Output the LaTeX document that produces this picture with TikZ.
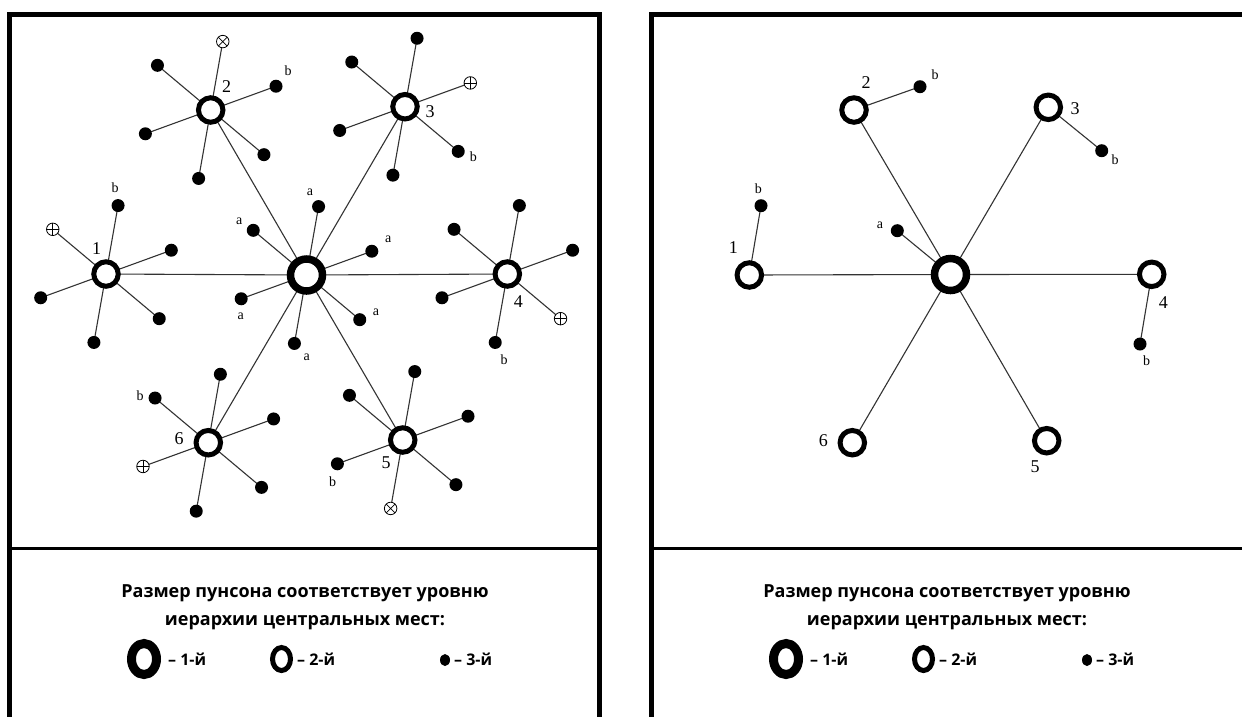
\documentclass[tikz,border=0pt]{standalone}
\usepackage{fontspec}
\setmainfont{Liberation Serif}
\newfontfamily\legendfont{Open Sans}
\usetikzlibrary{calc,shapes.geometric}
\pgfdeclarelayer{paper}
\pgfdeclarelayer{wires}
\pgfsetlayers{paper,wires,main}

\begin{document}
\begin{tikzpicture}[x=1pt,y=-1pt,
  link/.style={line width=1.1pt, draw=black!80},
  frame/.style={line width=5pt, line join=miter},
  divider/.style={line width=3pt},
  hub/.style={circle, draw, line width=7.5pt, fill=white, minimum size=32pt, inner sep=0pt},
  town/.style={circle, draw, line width=5pt, fill=white, minimum size=24.5pt, inner sep=0pt},
  village/.style={circle, fill, minimum size=13pt, inner sep=0pt},
  ring/.style={circle, draw, line width=0.8pt, fill=white, minimum size=12.5pt, inner sep=0pt},
  plusring/.style={ring, path picture={
      \draw[line width=0.7pt] (path picture bounding box.north) -- (path picture bounding box.south)
                              (path picture bounding box.west) -- (path picture bounding box.east);}},
  timesring/.style={ring, path picture={
      \draw[line width=0.7pt] (path picture bounding box.north west) -- (path picture bounding box.south east)
                              (path picture bounding box.south west) -- (path picture bounding box.north east);}},
  num/.style={font=\fontsize{18}{18}\selectfont, inner sep=0pt},
  tag/.style={font=\fontsize{14}{14}\selectfont, inner sep=0pt},
  legtext/.style={font=\legendfont\bfseries\fontsize{18}{18}\selectfont, inner sep=0pt},
  legitem/.style={font=\legendfont\bfseries\fontsize{16}{16}\selectfont, inner sep=0pt, anchor=west},
  bigO/.style={ellipse, draw, line width=9pt, minimum width=25pt, minimum height=31pt, inner sep=0pt},
  midO/.style={ellipse, draw, line width=5pt, minimum width=18pt, minimum height=23pt, inner sep=0pt},
  smallO/.style={ellipse, fill, minimum width=10pt, minimum height=12pt, inner sep=0pt}
]
\useasboundingbox (0,0) rectangle (1242,716);
\begin{pgfonlayer}{paper}
  \fill[white] (0,0) rectangle (1242,716);
\end{pgfonlayer}

% ---------- frames ----------
\draw[frame] (9.5,720) -- (9.5,14) -- (599,14) -- (599,720);
\draw[divider] (9.5,548) -- (599,548);
\draw[frame] (651,720) -- (651,14) -- (1250,14);
\draw[divider] (651,548) -- (1250,548);

% ---------- left panel: full network ----------
\node[hub]  (L0) at (306.5,275) {};
\node[town] (L1) at (106,274) {};
\node[town] (L2) at (210.7,110) {};
\node[town] (L3) at (405,106.7) {};
\node[town] (L4) at (507.3,274) {};
\node[town] (L5) at (402.7,440) {};
\node[town] (L6) at (208.3,442.7) {};

% satellites of every place; one spoke per place ends in a ring mark
\foreach \k/\oddone/\kind in {0/999/0, 1/140/0, 2/80/1, 3/20/0, 4/320/0, 5/260/1, 6/200/0}{
  \foreach \a in {20,80,140,200,260,320}{
    \ifnum\a=\oddone\relax
      \ifnum\kind=1\relax
        \node[timesring] (L\k-\a) at ($(L\k)+(-\a:69.5)$) {};
      \else
        \node[plusring] (L\k-\a) at ($(L\k)+(-\a:69.5)$) {};
      \fi
    \else
      \node[village] (L\k-\a) at ($(L\k)+(-\a:69.5)$) {};
    \fi
  }
}

% spokes and links, beneath the marks
\begin{pgfonlayer}{wires}
\foreach \k in {0,...,6}{
  \foreach \a in {20,80,140,200,260,320}{
    \draw[link] (L\k.center) -- (L\k-\a.center);
  }
}
\foreach \k in {1,...,6}{ \draw[link] (L0.center) -- (L\k.center); }
\end{pgfonlayer}

% numbers
\node[num] (Ln1) at (96.7,249) {1};
\node[num] (Ln2) at (226.7,87) {2};
\node[num] (Ln3) at (430,111.7) {3};
\node[num] (Ln4) at (518.3,301.7) {4};
\node[num] (Ln5) at (386,462.7) {5};
\node[num] (Ln6) at (179,438.3) {6};
% letters
\node[tag] (Lb1) at (115,188) {b};
\node[tag] (Lb2) at (288,71) {b};
\node[tag] (Lb3) at (473.3,156.7) {b};
\node[tag] (Lb4) at (504,360) {b};
\node[tag] (Lb5) at (332.7,481.7) {b};
\node[tag] (Lb6) at (140,396) {b};
\node[tag] (La1) at (310,192.7) {a};
\node[tag] (La2) at (388.3,239.3) {a};
\node[tag] (La3) at (239.3,221.7) {a};
\node[tag] (La4) at (240.7,316.7) {a};
\node[tag] (La5) at (306.7,357.3) {a};
\node[tag] (La6) at (376,312.7) {a};

% ---------- right panel: reduced network ----------
\node[village] (Rb1) at (761,205.7) {};
\node[village] (Rb2) at (920,86.7) {};
\node[village] (Rb3) at (1101.7,150.7) {};
\node[village] (Rb4) at (1140,344) {};
\node[village] (Ra)  at (897.3,230.7) {};
\node[hub]  (R0) at (950.5,274.5) {};
\node[town] (R1) at (749.3,275) {};
\node[town] (R2) at (854,110) {};
\node[town] (R3) at (1048.3,107.3) {};
\node[town] (R4) at (1151.7,274.3) {};
\node[town] (R5) at (1046.7,440.7) {};
\node[town] (R6) at (852.3,442.7) {};
\begin{pgfonlayer}{wires}
\foreach \k in {1,...,6}{ \draw[link] (R0.center) -- (R\k.center); }
\draw[link] (R0.center) -- (Ra.center);
\foreach \k in {1,...,4}{ \draw[link] (R\k.center) -- (Rb\k.center); }
\end{pgfonlayer}

\node[num] (Rn1) at (733.3,247.3) {1};
\node[num] (Rn2) at (866,82.7) {2};
\node[num] (Rn3) at (1075,108.3) {3};
\node[num] (Rn4) at (1163.3,302.3) {4};
\node[num] (Rn5) at (1035,466.7) {5};
\node[num] (Rn6) at (823.3,440.7) {6};
\node[tag] (Rl1) at (758.3,188.3) {b};
\node[tag] (Rl2) at (935,75) {b};
\node[tag] (Rl3) at (1115,160) {b};
\node[tag] (Rl4) at (1146.7,361) {b};
\node[tag] (Rla) at (880,225) {a};

% ---------- legends ----------
\foreach \ox/\p in {0/L, 642/R}{
  \begin{scope}[xshift=\ox]
    \node[legtext] (\p t1) at (305,593) {Размер пунсона соответствует уровню};
    \node[legtext] (\p t2) at (305,623) {иерархии центральных мест:};
    \node[bigO]   (\p o1) at (144,659) {};
    \node[legitem] (\p i1) at (168,659) {– 1-й};
    \node[midO]   (\p o2) at (281.5,659) {};
    \node[legitem] (\p i2) at (297,659) {– 2-й};
    \node[smallO] (\p o3) at (445,660) {};
    \node[legitem] (\p i3) at (454,659) {– 3-й};
  \end{scope}
}
\end{tikzpicture}
\end{document}
